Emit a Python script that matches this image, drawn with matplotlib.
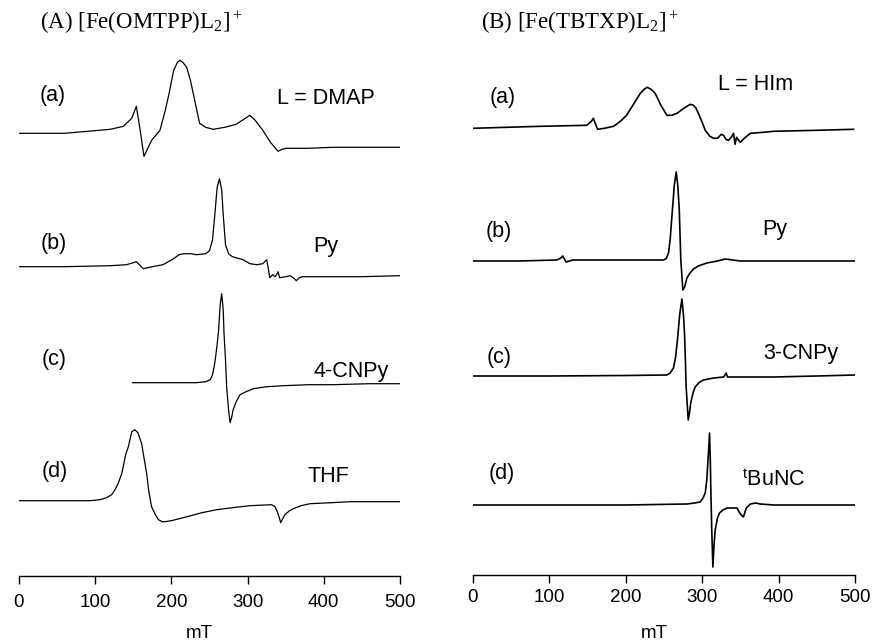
import numpy as np
import matplotlib
matplotlib.use("Agg")
import matplotlib.pyplot as plt

plt.rcParams["mathtext.fontset"] = "custom"
plt.rcParams["mathtext.rm"] = "Liberation Serif"
plt.rcParams["mathtext.sf"] = "Liberation Sans"
plt.rcParams["mathtext.it"] = "Liberation Serif:italic"

# ---- (A) [Fe(OMTPP)L2]+ spectra: field (mT) / intensity (a.u.) ----
field_A_dmap = [0, 30, 60, 90, 120, 137, 148, 154, 159, 164, 174, 185, 192, 197, 203,
                208, 211, 215, 220, 225, 230, 237, 245, 255, 270, 285, 295, 303, 310,
                320, 330, 340, 345, 351, 380, 412, 450, 500]
int_A_dmap = [0, 0, 0, 2, 4, 7, 15, 27, 3, -23, -7, 3, 23, 40, 63,
              71, 73, 71, 66, 53, 35, 10, 6, 4, 6, 9, 14, 18, 13,
              3, -9, -18, -16, -15, -15, -14, -14, -14]

field_A_py = [0, 60, 120, 141, 150, 154, 158, 163, 175, 189, 196, 203, 210, 216, 225,
              233, 245, 250, 254, 257, 260, 263, 266, 268, 271, 275, 280, 294, 303,
              312, 320, 325, 327, 329, 333, 336, 338, 340, 342, 350, 356, 360, 364,
              368, 372, 412, 450, 500]
int_A_py = [0, 0, 1, 2, 4, 5, 2, -2, 0, 2, 5, 8, 12, 13, 13,
            12, 13, 16, 27, 52, 79, 88, 77, 52, 22, 13, 10, 7, 3,
            2, 3, 7, -1, -11, -8, -10, -8, -5, -11, -10, -9, -11, -14,
            -11, -10, -10, -10, -9]

field_A_4cnpy = [149, 200, 233, 245, 251, 254, 257, 260, 262, 264, 266, 268, 269, 271,
                 272.5, 275, 277, 279, 281, 285, 290, 298, 307.5, 325, 347, 380, 412,
                 460, 500]
int_A_4cnpy = [0, 0, 0, 1, 3, 8, 20, 38, 53, 78, 89, 73, 50, 23,
               -4, -27, -40, -35, -27, -19, -12, -9, -6, -4, -3, -2, -2,
               -1, -1]

field_A_thf = [0, 50, 93, 106, 115, 121.6, 126, 130, 134.8, 140, 143.5, 148, 152, 156,
               161, 164, 167.6, 170, 174, 179, 183, 188, 191.6, 200, 215.6, 240, 259.4,
               280, 303, 331.6, 336, 339, 342, 343.4, 346, 349, 355, 360, 370, 382,
               410, 434, 470, 500]
int_A_thf = [0, 0, 0, 1, 3, 6, 11, 17, 27, 46, 54, 69, 71, 68,
             57, 43, 27, 11, -6, -14, -19, -21, -21, -20, -17, -12, -9,
             -7, -5, -4, -6, -11, -18, -22, -18, -14, -10, -8, -5, -3,
             -2, -1, -1, -1]

# ---- (B) [Fe(TBTXP)L2]+ spectra ----
field_B_him = [0, 88, 149, 155, 157.6, 160, 163, 172, 184, 193, 201, 210, 219, 224, 228,
               233, 238.4, 246, 253.8, 260, 267, 274, 280, 284.5, 288.6, 292, 295, 300,
               304, 310, 315, 320, 325, 328, 331, 334.5, 338, 341, 343, 345, 347.6, 350,
               355, 363, 380, 393.5, 450, 498]
int_B_him = [0, 2, 3, 7, 10, 5, -1, 0, 2, 7, 13, 24, 35, 39, 41,
             39, 35, 23, 13, 13, 15, 19, 22, 24, 23, 20, 15, 6,
             -2, -8, -10, -10, -6, -7, -11, -12, -9, -5, -16, -9, -12, -14,
             -10, -5, -4, -3, -2, -1]

field_B_py = [0, 60, 109.6, 115, 117.5, 119.5, 121.8, 130.6, 200, 249.3, 253, 255.9, 258,
              261, 263.5, 266, 268, 270, 272, 274.7, 277, 280, 284, 288.6, 295, 306, 320,
              330, 340, 350, 420, 500]
int_B_py = [0, 0, 1, 3, 5, 2, -1, 1, 1, 1, 2.5, 8, 21,
            51, 76, 89, 76, 51, 1, -29, -26, -17, -12, -8, -5, -2, 0,
            2, 1, 0, 0, 0]

field_B_3cnpy = [0, 100, 200, 253.8, 258, 262.4, 265, 267.6, 270.5, 273.4, 275.5, 276.8,
                 278, 279, 281.7, 283.5, 285, 288, 290.8, 296, 301.7, 315, 328, 331.5,
                 333, 360, 393.5, 450, 500]
int_B_3cnpy = [0, 0, 0.5, 1, 3, 8, 18, 36, 61, 77, 61, 43,
               16, -11, -44, -36, -27, -17, -11, -6.5, -4, -2, -1, 3,
               -1, -1, -1, 0, 1]

field_B_tbunc = [0, 100, 200, 280, 290, 297.4, 301, 304, 306, 308, 309.6, 310.6, 311.4,
                 312.5, 314, 315.5, 317, 320, 322.7, 327, 332.4, 345.5, 348.4, 351, 354,
                 356, 357.7, 363, 370, 376, 393.5, 450, 500]
int_B_tbunc = [0, 0, 0, 1, 2, 3, 7, 12, 25, 50, 72, 45, 12,
               -25, -62, -40, -25, -13, -8, -5, -3, -3, -7, -10, -12,
               -7, -3, 1, 2, 1, 0, 0, 0]

letters = ["(a)", "(b)", "(c)", "(d)"]
ligands_A = ["L = DMAP", "Py", "4-CNPy", "THF"]
ligands_B = ["L = HIm", "Py", "3-CNPy", r"$^{\mathsf{t}}$BuNC"]
ticks = [0, 100, 200, 300, 400, 500]

W, H = 874, 642
fig = plt.figure(figsize=(W / 100, H / 100), dpi=100)


def make_panel(x0, x1, axis_py, title, title_x, traces, baselines, labels,
               letter_pos, lig_pos, lw, pad):
    ax = fig.add_axes([x0 / W, (H - axis_py) / H, (x1 - x0) / W, axis_py / H])
    ax.set_xlim(0, 500)
    ax.set_ylim(0, axis_py)
    for (f, s), base in zip(traces, baselines):
        ax.plot(f, (axis_py - base) + np.asarray(s, float), color="black", lw=lw,
                solid_joinstyle="round")
    for sp in ("left", "right", "top"):
        ax.spines[sp].set_visible(False)
    ax.spines["bottom"].set_linewidth(1.0)
    ax.set_yticks([])
    ax.set_xticks(ticks)
    ax.tick_params(axis="x", direction="out", length=6, width=1.0, pad=pad,
                   labelsize=13.5)
    for t in ax.get_xticklabels():
        t.set_fontfamily("Liberation Sans")
    ax.text(237, axis_py - 634, "mT", ha="center", va="center", fontsize=13.5,
            family="Liberation Sans", clip_on=False)
    ax.text(title_x, axis_py - 23, title, ha="left", va="center", fontsize=16.5,
            family="Liberation Serif")
    for lt, (lx, ly) in zip(letters, letter_pos):
        ax.text(lx, axis_py - ly, lt, ha="left", va="center", fontsize=15.5,
                family="Liberation Sans")
    for lt, (lx, ly) in zip(labels, lig_pos):
        ax.text(lx, axis_py - ly, lt, ha="left", va="center", fontsize=15.5,
                family="Liberation Sans")
    return ax


make_panel(19, 400, 575.5, r"(A) [Fe(OMTPP)L$_2$]$^+$", 28,
           [(field_A_dmap, int_A_dmap), (field_A_py, int_A_py),
            (field_A_4cnpy, int_A_4cnpy), (field_A_thf, int_A_thf)],
           [133.3, 266.7, 382.7, 500.7], ligands_A,
           [(27, 96), (28, 243), (30, 360), (30, 472)],
           [(338, 99), (386, 246), (386, 372), (379, 476)], 0.9, 7)

make_panel(473, 855, 574.5, r"(B) [Fe(TBTXP)L$_2$]$^+$", 10,
           [(field_B_him, int_B_him), (field_B_py, int_B_py),
            (field_B_3cnpy, int_B_3cnpy), (field_B_tbunc, int_B_tbunc)],
           [128.3, 261, 376, 505], ligands_B,
           [(22, 98), (16, 232), (18, 357), (20, 473)],
           [(321, 85), (378, 230), (380, 353), (352, 480)], 1.2, 4.5)

fig.savefig("out.png", dpi=100, facecolor="white")
